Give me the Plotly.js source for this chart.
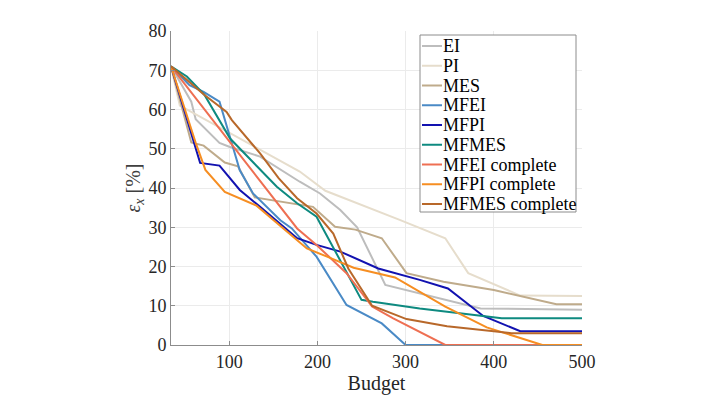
<!DOCTYPE html>
<html>
<head>
<meta charset="utf-8">
<script src="https://cdn.plot.ly/plotly-3.0.1.min.js"></script>
<style>
  html, body { margin: 0; padding: 0; background: #fff; }
  #graph { width: 718px; height: 397px; }
</style>
</head>
<body>
<div id="graph"></div>
<script>
// Budget (x) and error eps_x in % (y) for each method
var eiX = [34, 57, 62, 89, 100, 135, 180, 203, 226, 245, 277, 335, 385, 500];
var eiY = [71, 62, 57.5, 51.5, 50.5, 48, 41.6, 38.6, 34.4, 30, 15.3, 12, 9.3, 9];

var piX = [34, 44, 180, 209, 294, 345, 371, 430, 500];
var piY = [71, 61, 44.2, 39.3, 31.8, 27.2, 18.3, 12.6, 12.5];

var mesX = [34, 57, 71, 95, 110, 129, 195, 220, 243, 273, 301, 343, 400, 433, 471, 500];
var mesY = [71, 51.6, 50.8, 46.5, 45.5, 37.6, 35.2, 30.1, 29.4, 27.2, 18.3, 16.1, 14, 12.3, 10.4, 10.4];

var mfeiX = [34, 55, 71, 89, 112, 127, 158, 171, 199, 233, 273, 300, 500];
var mfeiY = [71, 66.2, 64.5, 62, 44.5, 38.6, 31.8, 29.7, 22.5, 10.2, 5.5, 0, 0];

var mfpiX = [34, 67, 89, 112, 135, 177, 199, 226, 269, 316, 348, 388, 430, 500];
var mfpiY = [71, 46.4, 45.7, 39.5, 35.2, 27.2, 25.5, 23.8, 19.5, 16.6, 14.4, 7.4, 3.5, 3.5];

var mfmesX = [34, 52, 72, 86, 101, 154, 177, 199, 250, 263, 316, 409, 500];
var mfmesY = [71, 68.4, 63.7, 58.2, 52.6, 40.3, 36.1, 32.7, 11.5, 11, 9.3, 6.8, 6.8];

var mfeiCX = [34, 177, 199, 233, 262, 286, 345, 500];
var mfeiCY = [71, 29.7, 25.5, 18.3, 9.8, 6.8, 0, 0];

var mfpiCX = [34, 62, 73, 95, 131, 188, 211, 241, 288, 345, 392, 455, 500];
var mfpiCY = [71, 51.5, 44.6, 39, 35.5, 24.6, 22.5, 19.7, 17.2, 9.8, 4.5, 0, 0];

var mfmesCX = [34, 62, 72, 97, 103, 135, 156, 177, 199, 218, 235, 262, 301, 347, 420, 500];
var mfmesCY = [71, 65.5, 63.7, 59.4, 57.3, 48.8, 42.5, 37.4, 33.5, 28.4, 19.5, 10, 6.6, 4.8, 3, 3];

var names = ['EI', 'PI', 'MES', 'MFEI', 'MFPI', 'MFMES', 'MFEI complete', 'MFPI complete', 'MFMES complete'];
var colors = ['#bdbdbd', '#e6ddcc', '#bfab8b', '#4a8ac6', '#1212b0', '#0e8a80', '#ee6f52', '#f68e22', '#b8682a'];
var xs = [eiX, piX, mesX, mfeiX, mfpiX, mfmesX, mfeiCX, mfpiCX, mfmesCX];
var ys = [eiY, piY, mesY, mfeiY, mfpiY, mfmesY, mfeiCY, mfpiCY, mfmesCY];

var data = [];
for (var i = 0; i < names.length; i++) {
    data.push({
        x: xs[i],
        y: ys[i],
        mode: 'lines',
        name: names[i],
        line: {color: colors[i], width: 2}
    });
}

var font = 'Liberation Serif, Times New Roman, serif';

// plot area in pixels: x 171..582, y 31..345 -> helpers for the hand-made legend (MATLAB style, compact)
function px(x) { return (x - 171) / 411; }
function py(y) { return (345 - y) / 314; }

var shapes = [{
    type: 'rect', xref: 'paper', yref: 'paper',
    x0: px(420), x1: px(576), y0: py(212), y1: py(35),
    fillcolor: '#fff', line: {color: '#8c8c8c', width: 1}, layer: 'above'
}];
var annotations = [];
for (var i = 0; i < names.length; i++) {
    var yy = 46 + 19.75 * i;
    shapes.push({
        type: 'line', xref: 'paper', yref: 'paper',
        x0: px(422), x1: px(442), y0: py(yy), y1: py(yy),
        line: {color: colors[i], width: 2}, layer: 'above'
    });
    annotations.push({
        xref: 'paper', yref: 'paper', x: px(441), y: py(yy),
        xanchor: 'left', yanchor: 'middle', showarrow: false,
        text: names[i], font: {family: font, size: 18, color: '#000'}
    });
}

var layout = {
    width: 718,
    height: 397,
    margin: {l: 171, r: 136, t: 31, b: 52},
    paper_bgcolor: '#fff',
    plot_bgcolor: '#fff',
    font: {family: font, color: '#262626', size: 18},
    showlegend: false,
    shapes: shapes,
    annotations: annotations,
    xaxis: {
        range: [34, 500],
        tickvals: [100, 200, 300, 400, 500],
        ticks: 'inside', ticklen: 4, tickcolor: '#8c8c8c',
        showline: true, linecolor: '#8c8c8c', linewidth: 1,
        showgrid: true, gridcolor: '#ebebeb',
        zeroline: false,
        title: {text: 'Budget', font: {family: font, size: 20, color: '#262626'}, standoff: 4}
    },
    yaxis: {
        range: [0, 80],
        tickvals: [0, 10, 20, 30, 40, 50, 60, 70, 80],
        ticks: 'inside', ticklen: 4, tickcolor: '#8c8c8c',
        showline: true, linecolor: '#8c8c8c', linewidth: 1,
        showgrid: true, gridcolor: '#ebebeb',
        zeroline: false,
        title: {text: '<i>ε</i><sub><i>x</i></sub> [%]', font: {family: font, size: 20, color: '#404040'}, standoff: 2}
    }
};

Plotly.newPlot('graph', data, layout, {displayModeBar: false, staticPlot: true});
</script>
</body>
</html>
